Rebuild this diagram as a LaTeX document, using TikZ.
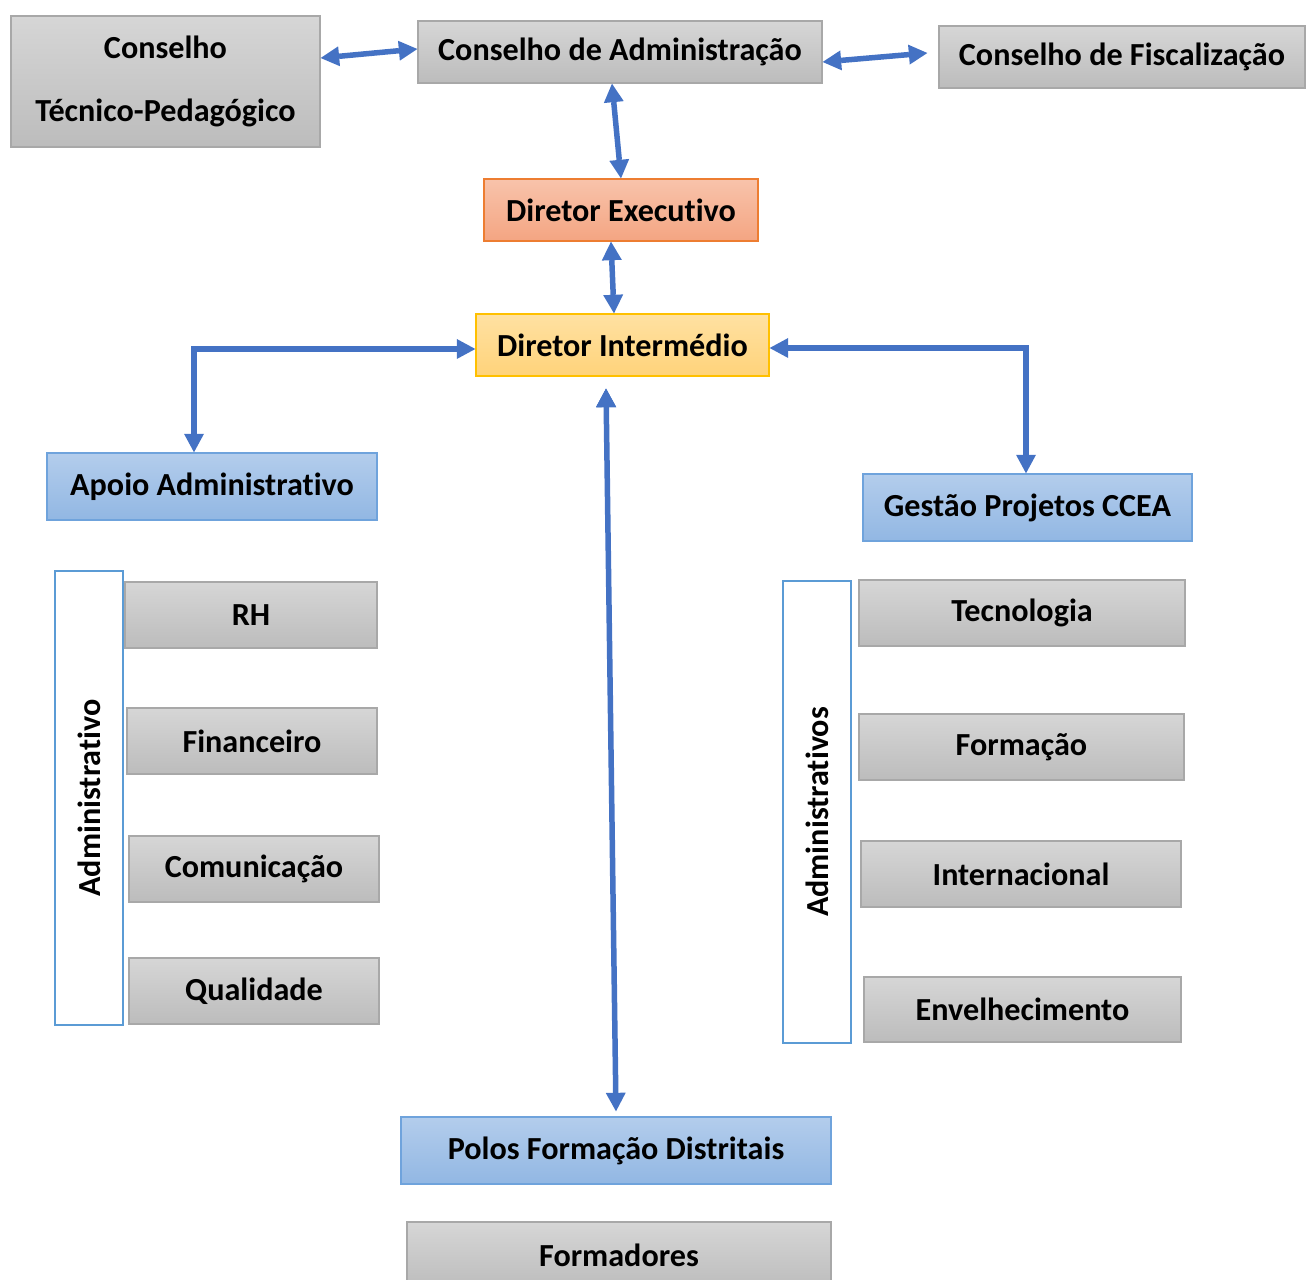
\documentclass[tikz,border=0pt]{standalone}
\usepackage{fontspec}
\setmainfont{Carlito}[RawFeature={-liga;-clig;-calt;-dlig}]
\usepackage{tikz}
\usetikzlibrary{arrows.meta}
\definecolor{linkblue}{HTML}{4472C4}
\definecolor{graytop}{HTML}{D6D6D6}
\definecolor{graybot}{HTML}{BCBCBC}
\definecolor{grayline}{HTML}{A8A8A8}
\definecolor{orangetop}{HTML}{F8C3AB}
\definecolor{orangebot}{HTML}{F4A582}
\definecolor{orangeline}{HTML}{ED7D31}
\definecolor{yellowtop}{HTML}{FFE1A2}
\definecolor{yellowbot}{HTML}{FFD37A}
\definecolor{yellowline}{HTML}{FFC000}
\definecolor{bluetop}{HTML}{B3CDEC}
\definecolor{bluebot}{HTML}{92B7E3}
\definecolor{blueline}{HTML}{6FA3DC}
\definecolor{sideline}{HTML}{5B9BD5}
\tikzset{
    graybox/.style={
    rectangle,draw=grayline,line width=0.8pt,top color=graytop,bottom color=graybot,
    font=\fontsize{18.3}{22}\selectfont\bfseries,inner sep=0pt
    },
    orangebox/.style={
    rectangle,draw=orangeline,line width=0.8pt,top color=orangetop,bottom color=orangebot,
    font=\fontsize{18.3}{22}\selectfont\bfseries,inner sep=0pt
    },
    yellowbox/.style={
    rectangle,draw=yellowline,line width=0.8pt,top color=yellowtop,bottom color=yellowbot,
    font=\fontsize{18.3}{22}\selectfont\bfseries,inner sep=0pt
    },
    bluebox/.style={
    rectangle,draw=blueline,line width=0.8pt,top color=bluetop,bottom color=bluebot,
    font=\fontsize{18.3}{22}\selectfont\bfseries,inner sep=0pt
    },
    sidebox/.style={
    rectangle,draw=sideline,line width=1.4pt,fill=white,rotate=90,
    minimum height=1.36cm,font=\fontsize{18.3}{22}\selectfont\bfseries,inner sep=0pt
    },
    tip/.tip={Triangle[length=0.37cm,width=0.4cm,fill=linkblue,line width=0pt]},
    link/.style={
    tip-tip,draw=linkblue,line width=0.11cm
    },
    elbow/.style={
    to path={-| (\tikztotarget)}
    },
}

\begin{document}
\begin{tikzpicture}[x=0.02cm, y=-0.02cm]
   \useasboundingbox (0,0) rectangle (1306,1280);

   %conselhos
   \node[graybox,minimum width=6.18cm,minimum height=2.62cm,align=center,
         font=\fontsize{18.3}{36}\selectfont\bfseries] (ctp) at (165.5,81.5) {Conselho\\Técnico-Pedagógico};
   \node[graybox,minimum width=8.08cm,minimum height=1.24cm] (ca) at (620,52) {Conselho de Administração};
   \node[graybox,minimum width=7.32cm,minimum height=1.24cm] (cf) at (1122,57) {Conselho de Fiscalização};

   %direcao
   \node[orangebox,minimum width=5.48cm,minimum height=1.24cm] (de) at (621,210) {Diretor Executivo};
   \node[yellowbox,minimum width=5.86cm,minimum height=1.24cm] (di) at (622.5,345) {Diretor Intermédio};

   %apoio administrativo
   \node[bluebox,minimum width=6.6cm,minimum height=1.34cm] (aa) at (212,486.5) {Apoio Administrativo};
   \node[sidebox,minimum width=9.08cm] (admL) at (89,798) {Administrativo};
   \node[graybox,minimum width=5.04cm,minimum height=1.32cm] (rh) at (251,615) {RH};
   \node[graybox,minimum width=5.0cm,minimum height=1.32cm] (fin) at (252,741) {Financeiro};
   \node[graybox,minimum width=5.0cm,minimum height=1.32cm] (com) at (254,869) {Comunicação};
   \node[graybox,minimum width=5.0cm,minimum height=1.32cm] (qual) at (254,991) {Qualidade};

   %gestao projetos
   \node[bluebox,minimum width=6.58cm,minimum height=1.34cm] (gp) at (1027.5,507.5) {Gestão Projetos CCEA};
   \node[sidebox,minimum width=9.24cm] (admR) at (817,812) {Administrativos};
   \node[graybox,minimum width=6.52cm,minimum height=1.32cm] (tec) at (1022,613) {Tecnologia};
   \node[graybox,minimum width=6.5cm,minimum height=1.32cm] (form) at (1021.5,747) {Formação};
   \node[graybox,minimum width=6.4cm,minimum height=1.32cm] (int) at (1021,874) {Internacional};
   \node[graybox,minimum width=6.34cm,minimum height=1.3cm] (env) at (1022.5,1009.5) {Envelhecimento};

   %polos
   \node[bluebox,minimum width=8.6cm,minimum height=1.34cm] (polos) at (616,1150.5) {Polos Formação Distritais};
   \node[graybox,minimum width=8.48cm,minimum height=1.34cm] (fmd) at (619,1255.5) {Formadores};

  \path[link]
    ([yshift=0.47cm]ctp.east) edge ([yshift=0.06cm]ca.west)
    ([yshift=-0.2cm]ca.east) edge ([xshift=-0.22cm,yshift=0.08cm]cf.west)
    ([xshift=-0.16cm]ca.south) edge (de.north)
    ([xshift=-0.2cm]de.south) edge ([xshift=-0.17cm]di.north)

    %ramos do diretor intermedio
    ([yshift=-0.08cm]di.west) edge[elbow] ([xshift=-0.36cm]aa.north)
    ([yshift=-0.06cm]di.east) edge[elbow] ([xshift=-0.03cm]gp.north)
    ([xshift=-0.33cm,yshift=-0.24cm]di.south) edge ([yshift=0.1cm]polos.north);
\end{tikzpicture}
\end{document}
